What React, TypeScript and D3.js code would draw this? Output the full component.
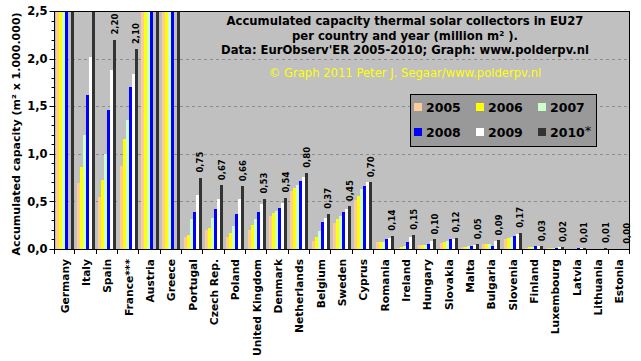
import React, { useEffect, useRef } from "react";
import * as d3 from "d3";

const countries = ["Germany", "Italy", "Spain", "France***", "Austria", "Greece", "Portugal", "Czech Rep.", "Poland",
  "United Kingdom", "Denmark", "Netherlands", "Belgium", "Sweden", "Cyprus", "Romania", "Ireland", "Hungary",
  "Slovakia", "Malta", "Bulgaria", "Slovenia", "Finland", "Luxembourg", "Latvia", "Lithuania", "Estonia"];

const years = ["2005", "2006", "2007", "2008", "2009", "2010"];
const colors = ["#ffcc99", "#ffff00", "#ccffcc", "#0000ff", "#ffffff", "#333333"];

// million m2 (values above 2,5 are cut off by the chart)
const v2005 = [7.1, 0.69, 0.55, 0.87, 3.2, 3.0, 0.13, 0.20, 0.13, 0.20, 0.35, 0.61, 0.08, 0.27, 0.51, 0.07, 0.01, 0.04, 0.06, 0.02, 0.05, 0.11, 0.01, 0.01, 0.002, 0.002, 0.001];
const v2006 = [8.5, 0.86, 0.73, 1.16, 3.4, 3.3, 0.15, 0.22, 0.17, 0.25, 0.38, 0.64, 0.13, 0.32, 0.56, 0.07, 0.02, 0.04, 0.07, 0.02, 0.05, 0.12, 0.02, 0.015, 0.003, 0.002, 0.001];
const v2007 = [9.4, 1.20, 1.00, 1.36, 3.7, 3.6, 0.31, 0.33, 0.24, 0.31, 0.40, 0.67, 0.19, 0.35, 0.63, 0.07, 0.03, 0.04, 0.08, 0.03, 0.05, 0.13, 0.02, 0.012, 0.005, 0.003, 0.001];
const v2008 = [11.3, 1.62, 1.46, 1.70, 4.2, 3.9, 0.39, 0.42, 0.37, 0.39, 0.43, 0.71, 0.28, 0.39, 0.66, 0.10, 0.07, 0.05, 0.10, 0.03, 0.03, 0.14, 0.03, 0.015, 0.01, 0.003, 0.001];
const v2009 = [null, 2.02, 1.88, 1.84, null, null, 0.57, 0.52, 0.52, 0.47, 0.48, 0.76, 0.33, 0.42, 0.70, 0.12, 0.13, 0.08, 0.11, 0.04, 0.08, 0.16, 0.03, 0.016, 0.01, 0.004, 0.001];
const v2010 = [14.0, 2.70, 2.20, 2.10, 4.6, 4.1, 0.75, 0.67, 0.66, 0.53, 0.54, 0.80, 0.37, 0.45, 0.70, 0.14, 0.15, 0.10, 0.12, 0.05, 0.09, 0.17, 0.03, 0.02, 0.01, 0.01, 0.002];

const series = [v2005, v2006, v2007, v2008, v2009, v2010];
const yTicks = [0, 0.5, 1, 1.5, 2, 2.5];

const titleLines = [
  "Accumulated capacity thermal solar collectors in EU27",
  "per country and year (million m\u00b2 ).",
  "Data: EurObserv'ER 2005-2010; Graph: www.polderpv.nl",
];
const copyright = "\u00a9 Graph 2011 Peter J. Segaar/www.polderpv.nl";

const FONT = "'DejaVu Sans', Verdana, sans-serif";

function Chart() {
  const ref = useRef<SVGSVGElement>(null);

  useEffect(() => {
    const svg = d3.select(ref.current);
    svg.selectAll("*").remove();

    const left = 54, right = 630, top = 11, bottom = 249;

    const x = d3.scaleBand().domain(countries).range([left, right]);
    const step = x.bandwidth();
    const inner = d3.scaleBand().domain(years).range([(step - 18) / 2, (step + 18) / 2]);
    const y = d3.scaleLinear().domain([0, 2.5]).range([bottom, top]).clamp(true);

    svg.append("rect").attr("width", 641).attr("height", 361).attr("fill", "#ffffff");

    svg.append("rect")
      .attr("x", left).attr("y", top)
      .attr("width", right - left).attr("height", bottom - top)
      .attr("fill", "#c0c0c0");

    // dashed grid
    svg.append("g")
      .selectAll("line")
      .data(yTicks.filter((t) => t > 0 && t < 2.5))
      .enter()
      .append("line")
      .attr("x1", left).attr("x2", right)
      .attr("y1", (d) => Math.round(y(d)) + 0.5)
      .attr("y2", (d) => Math.round(y(d)) + 0.5)
      .attr("stroke", "#8c8c8c")
      .attr("stroke-dasharray", "3,3");

    // bars
    series.forEach((vals, si) => {
      svg.append("g")
        .selectAll("rect")
        .data(countries.map((c, i) => ({ c, v: vals[i] })).filter((d) => d.v != null))
        .enter()
        .append("rect")
        .attr("x", (d) => x(d.c)! + inner(years[si])!)
        .attr("width", inner.bandwidth())
        .attr("y", (d) => y(d.v as number))
        .attr("height", (d) => bottom - y(d.v as number))
        .attr("fill", colors[si])
        .attr("shape-rendering", "crispEdges");
    });

    // 2010 value labels
    svg.append("g")
      .selectAll("text")
      .data(countries.map((c, i) => ({ c, v: v2010[i] })).filter((d) => d.v < 2.5))
      .enter()
      .append("text")
      .attr("transform", (d) => `translate(${x(d.c)! + inner("2010")! + inner.bandwidth() / 2},${y(d.v) - 5}) rotate(-90)`)
      .attr("dy", "0.36em")
      .style("font-family", FONT)
      .style("font-weight", "bold")
      .style("font-size", "8.5px")
      .attr("fill", "#000")
      .text((d) => d3.format(".2f")(d.v).replace(".", ","));

    // plot frame
    svg.append("rect")
      .attr("x", left + 0.5).attr("y", top + 0.5)
      .attr("width", right - left - 1).attr("height", bottom - top)
      .attr("fill", "none").attr("stroke", "#000");

    // y axis
    const yAxis = svg.append("g").attr("transform", `translate(${left + 0.5},0)`);
    yAxis.append("line").attr("y1", top).attr("y2", bottom + 0.5).attr("stroke", "#000");
    yAxis.selectAll(".minor")
      .data(d3.range(0, 26).map((i) => i / 10))
      .enter()
      .append("line")
      .attr("x1", -3).attr("x2", 0)
      .attr("y1", (d) => Math.round(y(d)) + 0.5)
      .attr("y2", (d) => Math.round(y(d)) + 0.5)
      .attr("stroke", "#000");
    yAxis.selectAll(".major")
      .data(yTicks)
      .enter()
      .append("line")
      .attr("x1", -5).attr("x2", 0)
      .attr("y1", (d) => Math.round(y(d)) + 0.5)
      .attr("y2", (d) => Math.round(y(d)) + 0.5)
      .attr("stroke", "#000");
    yAxis.selectAll("text")
      .data(yTicks)
      .enter()
      .append("text")
      .attr("x", -7)
      .attr("y", (d) => y(d))
      .attr("dy", "0.36em")
      .attr("text-anchor", "end")
      .style("font-family", FONT)
      .style("font-weight", "bold")
      .style("font-size", "11.5px")
      .text((d) => d3.format(".1f")(d).replace(".", ","));

    svg.append("text")
      .attr("transform", `translate(20,${(top + bottom) / 2 + 4}) rotate(-90)`)
      .attr("text-anchor", "middle")
      .style("font-family", FONT)
      .style("font-weight", "bold")
      .style("font-size", "11px")
      .text("Accumulated capacity (m\u00b2 x 1.000.000)");

    // x axis
    const xAxis = svg.append("g").attr("transform", `translate(0,${bottom})`);
    xAxis.append("line").attr("x1", left).attr("x2", right).attr("y1", 0.5).attr("y2", 0.5).attr("stroke", "#000");
    xAxis.selectAll("line.tick")
      .data(d3.range(0, countries.length + 1))
      .enter()
      .append("line")
      .attr("class", "tick")
      .attr("x1", (i) => Math.round(left + i * step) - 0.5 + (i === 0 ? 1 : 0))
      .attr("x2", (i) => Math.round(left + i * step) - 0.5 + (i === 0 ? 1 : 0))
      .attr("y1", 0).attr("y2", 5)
      .attr("stroke", "#000");
    xAxis.selectAll("text")
      .data(countries)
      .enter()
      .append("text")
      .attr("transform", (d) => `translate(${x(d)! + step / 2},10) rotate(-90)`)
      .attr("dy", "0.36em")
      .attr("text-anchor", "end")
      .style("font-family", FONT)
      .style("font-weight", "bold")
      .style("font-size", "10.7px")
      .text((d) => d);

    // title
    svg.append("g")
      .selectAll("text")
      .data(titleLines)
      .enter()
      .append("text")
      .attr("x", 405)
      .attr("y", (d, i) => 25 + i * 14.5)
      .attr("text-anchor", "middle")
      .style("font-family", FONT)
      .style("font-weight", "bold")
      .style("font-size", "11.6px")
      .text((d) => d);

    svg.append("text")
      .attr("x", 405).attr("y", 77)
      .attr("text-anchor", "middle")
      .style("font-family", FONT)
      .style("font-size", "11.6px")
      .attr("fill", "#ffff00")
      .text(copyright);

    // legend
    const legend = svg.append("g").attr("transform", "translate(410,94)");
    legend.append("rect")
      .attr("x", 0.5).attr("y", 0.5)
      .attr("width", 186).attr("height", 52)
      .attr("fill", "#999999").attr("stroke", "#000");

    years.forEach((yr, i) => {
      const col = i % 3, row = Math.floor(i / 3);
      const g = legend.append("g").attr("transform", `translate(${4 + col * 62},${13 + row * 25})`);
      g.append("rect").attr("x", 0).attr("y", -4).attr("width", 8).attr("height", 8).attr("fill", colors[i]);
      const t = g.append("text")
        .attr("x", 12).attr("y", 0)
        .attr("dy", "0.36em")
        .style("font-family", FONT)
        .style("font-weight", "bold")
        .style("font-size", "12.5px")
        .text(yr);
      if (yr === "2010")
        t.append("tspan").style("font-weight", "normal").style("font-size", "13px").attr("dy", "-0.1em").text("*");
    });
  }, []);

  return <svg ref={ref} width={641} height={361} style={{ position: "absolute", left: 0, top: 0, display: "block" }} />;
}

export default function App() {
  return <Chart />;
}
